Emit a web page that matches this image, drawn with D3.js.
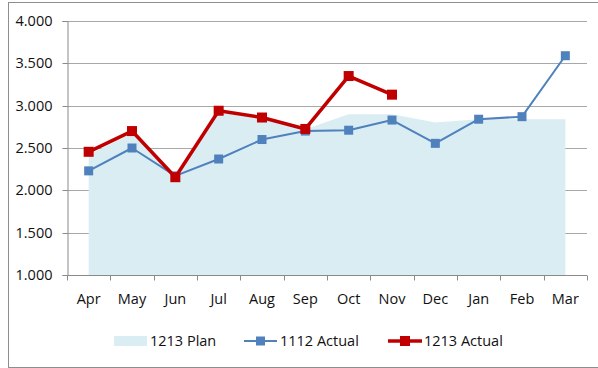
<!DOCTYPE html>
<html>
<head>
<meta charset="utf-8">
<script src="https://cdn.jsdelivr.net/npm/d3@7"></script>
<style>
  html, body { margin: 0; padding: 0; background: #fff; }
  svg { display: block; font-family: "Open Sans", sans-serif; }
</style>
</head>
<body>
<svg id="chart" width="598" height="368"></svg>
<script>
// Monthly figures, fiscal year April to March
const months = ["Apr", "May", "Jun", "Jul", "Aug", "Sep", "Oct", "Nov", "Dec", "Jan", "Feb", "Mar"];
const plan1213 = [2420, 2670, 2150, 2920, 2850, 2720, 2900, 2900, 2800, 2840, 2840, 2840];
const actual1112 = [2230, 2500, 2170, 2370, 2600, 2700, 2710, 2830, 2555, 2840, 2870, 3590];
const actual1213 = [2455, 2700, 2155, 2940, 2860, 2725, 3350, 3130];
const yTicks = [1000, 1500, 2000, 2500, 3000, 3500, 4000];
const seriesNames = ["1213 Plan", "1112 Actual", "1213 Actual"];

const svg = d3.select("#chart");
const margin = { left: 67, right: 11, top: 21, bottom: 93 };
const W = 598, H = 368;
const textColor = "#111";
const fontSize = 14.5;

const x = d3.scaleBand().domain(months).range([margin.left, W - margin.right]).padding(0);
const y = d3.scaleLinear().domain([1000, 4000]).range([H - margin.bottom, margin.top]);
const cx = m => x(m) + x.bandwidth() / 2;

// Outer chart frame (runs off the right edge)
svg.append("rect")
  .attr("x", 8.5).attr("y", 2.5).attr("width", W + 10).attr("height", H - 3)
  .attr("fill", "none").attr("stroke", "#8e8e8e").attr("stroke-width", 1);

// Horizontal gridlines
svg.append("g").selectAll("line").data(yTicks.slice(1)).join("line")
  .attr("x1", margin.left).attr("x2", W - margin.right)
  .attr("y1", d => Math.round(y(d)) + 0.5).attr("y2", d => Math.round(y(d)) + 0.5)
  .attr("stroke", "#a8a8a8").attr("stroke-width", 1);

// Plan as a filled area
const area = d3.area()
  .x((d, i) => cx(months[i]))
  .y0(y(1000))
  .y1(d => y(d));
svg.append("path").datum(plan1213)
  .attr("d", area).attr("fill", "#daedf3");

// Y axis
const yAxis = d3.axisLeft(y).tickValues(yTicks).tickSize(5).tickPadding(10)
  .tickFormat(d => (d / 1000).toFixed(3));
const gy = svg.append("g").attr("transform", `translate(${margin.left + 0.5},0)`).call(yAxis);
gy.select(".domain").attr("stroke", "#8a8a8a");
gy.selectAll(".tick line").attr("stroke", "#8a8a8a");
gy.selectAll(".tick text").attr("font-size", fontSize).attr("fill", textColor)
  .attr("font-family", "Open Sans, sans-serif");
gy.selectAll(".tick").attr("transform", d => `translate(0,${Math.round(y(d)) + 0.5})`);

// X axis: ticks sit on category boundaries
const gx = svg.append("g").attr("transform", `translate(0,${Math.round(y(1000)) + 0.5})`);
gx.append("line").attr("x1", margin.left).attr("x2", W - margin.right)
  .attr("stroke", "#8a8a8a");
const bounds = months.map(m => x(m)).concat([x(months[months.length - 1]) + x.bandwidth()]);
gx.selectAll("line.tk").data(bounds).join("line").attr("class", "tk")
  .attr("x1", d => Math.round(d) + 0.5).attr("x2", d => Math.round(d) + 0.5)
  .attr("y1", 0).attr("y2", 5).attr("stroke", "#8a8a8a");
gx.selectAll("text").data(months).join("text")
  .attr("x", d => cx(d)).attr("y", 28)
  .attr("text-anchor", "middle").attr("font-size", fontSize).attr("fill", textColor)
  .text(d => d);

// Lines with square markers
const line = d3.line().x((d, i) => cx(months[i])).y(d => y(d));

function drawSeries(values, color, width, size) {
  svg.append("path").datum(values)
    .attr("d", line).attr("fill", "none")
    .attr("stroke", color).attr("stroke-width", width).attr("stroke-linejoin", "round");
  svg.append("g").selectAll("rect").data(values).join("rect")
    .attr("x", (d, i) => cx(months[i]) - size / 2)
    .attr("y", d => y(d) - size / 2)
    .attr("width", size).attr("height", size)
    .attr("fill", color);
}
drawSeries(actual1112, "#4f81bd", 2, 9);
drawSeries(actual1213, "#c00000", 3.5, 10);

// Legend
const leg = svg.append("g");
const ly = 341;
leg.append("rect").attr("x", 114).attr("y", ly - 5).attr("width", 33).attr("height", 10).attr("fill", "#daedf3");
leg.append("text").attr("x", 150).attr("y", ly + 5).attr("font-size", fontSize).attr("fill", textColor).text(seriesNames[0]);

leg.append("line").attr("x1", 244).attr("x2", 277).attr("y1", ly).attr("y2", ly)
  .attr("stroke", "#4f81bd").attr("stroke-width", 2);
leg.append("rect").attr("x", 260.5 - 4.5).attr("y", ly - 4.5).attr("width", 9).attr("height", 9).attr("fill", "#4f81bd");
leg.append("text").attr("x", 280).attr("y", ly + 5).attr("font-size", fontSize).attr("fill", textColor).text(seriesNames[1]);

leg.append("line").attr("x1", 388).attr("x2", 422).attr("y1", ly).attr("y2", ly)
  .attr("stroke", "#c00000").attr("stroke-width", 3.5);
leg.append("rect").attr("x", 405 - 5).attr("y", ly - 5).attr("width", 10).attr("height", 10).attr("fill", "#c00000");
leg.append("text").attr("x", 424).attr("y", ly + 5).attr("font-size", fontSize).attr("fill", textColor).text(seriesNames[2]);
</script>
</body>
</html>
